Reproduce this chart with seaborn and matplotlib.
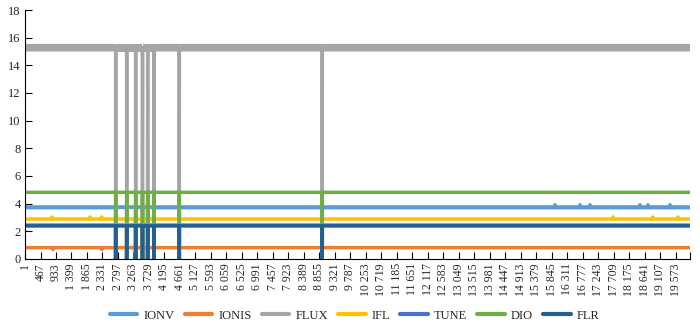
import numpy as np
import pandas as pd
import matplotlib
matplotlib.use("Agg")
import matplotlib.pyplot as plt
from matplotlib.ticker import FuncFormatter
import seaborn as sns

# Datos
n_points = 20000
series_names = ["IONV", "IONIS", "FLUX", "IFL", "TUNE", "DIO", "FLR"]
series_levels = [3.73, 0.82, 15.25, 2.89, 2.45, 4.82, 2.39]
series_colors = ["#5B9BD5", "#ED7D31", "#A5A5A5", "#FFC000", "#4472C4", "#70AD47", "#255E91"]

# puntos donde todas las series caen a cero
drop_points = [2728, 3059, 3329, 3534, 3690, 3880, 4641, 8941]

# pequenos picos visibles
ionv_spikes = {15940: 3.92, 16692: 3.92, 16992: 3.92, 18496: 3.92, 18737: 3.92, 19398: 3.92}
ifl_spikes = {812: 3.04, 1955: 3.04, 2307: 3.04, 17684: 3.04, 18878: 3.04, 19639: 3.04}
ionis_spikes = {842: 0.68, 2307: 0.68}

# banda de ruido de FLUX e IONV (min, max)
flux_band = (15.0, 15.55)
ionv_band = (3.58, 3.9)

tick_step = 466

idx = np.arange(1, n_points + 1)
frames = []
for name, level in zip(series_names, series_levels):
    vals = np.full(n_points, level)
    spikes = {"IONV": ionv_spikes, "IFL": ifl_spikes, "IONIS": ionis_spikes}.get(name, {})
    for k, v in spikes.items():
        vals[k - 1] = v
    vals[np.array(drop_points) - 1] = 0
    frames.append(pd.DataFrame({"idx": idx, "valor": vals, "serie": name}))
df = pd.concat(frames, ignore_index=True)

sns.set_theme(style="white")
plt.rcParams["font.family"] = ["Liberation Serif", "DejaVu Serif"]

fig, ax = plt.subplots(figsize=(7, 3.28), dpi=100)
fig.subplots_adjust(left=0.0357, right=0.9857, top=0.9695, bottom=0.2104)

sns.lineplot(data=df, x="idx", y="valor", hue="serie", hue_order=series_names,
             palette=dict(zip(series_names, series_colors)), linewidth=2.5,
             estimator=None, errorbar=None, ax=ax)

# bandas de ruido
mask = np.ones(n_points, dtype=bool)
mask[np.array(drop_points) - 1] = False
ax.fill_between(idx, flux_band[0], flux_band[1], where=mask, color=series_colors[2],
                linewidth=0, zorder=1.5)
ax.fill_between(idx, ionv_band[0], ionv_band[1], where=mask, color=series_colors[0],
                alpha=0.7, linewidth=0, zorder=1.5)

ax.set_xlim(0.5, n_points + 0.5)
ax.set_ylim(0, 18)
ax.set_yticks(range(0, 19, 2))
tick_pos = list(range(1, n_points, tick_step))
ax.set_xticks(tick_pos)
ax.set_xticks([n_points + 0.5], minor=True)
ax.xaxis.set_major_formatter(FuncFormatter(lambda v, p: f"{int(v):,}".replace(",", " ")))
ax.tick_params(axis="x", which="both", direction="in", length=5, width=0.8, color="black",
               labelsize=8.5, rotation=90, pad=3, bottom=True)
ax.tick_params(axis="y", direction="in", length=5, width=0.8, color="black",
               labelsize=9, pad=3, left=True)
ax.set_xlabel("")
ax.set_ylabel("")

for s in ["top", "right"]:
    ax.spines[s].set_visible(False)
for s in ["left", "bottom"]:
    ax.spines[s].set_color("black")
    ax.spines[s].set_linewidth(0.8)

handles, labels = ax.get_legend_handles_labels()
ax.get_legend().remove()
fig.legend(handles, labels, loc="lower center", ncol=7, frameon=False,
           bbox_to_anchor=(0.507, -0.015), fontsize=9, handlelength=2.2,
           columnspacing=0.8, handletextpad=0.5)
for h in fig.legends[0].get_lines():
    h.set_linewidth(3)

plt.savefig("out.png", dpi=100)
